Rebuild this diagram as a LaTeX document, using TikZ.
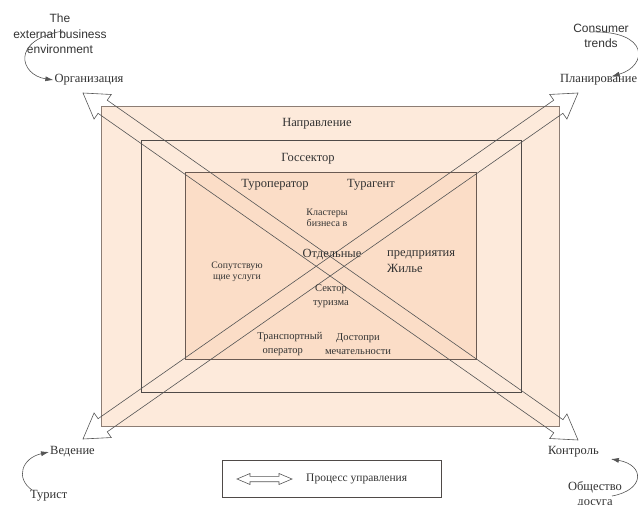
\documentclass[tikz,border=0pt]{standalone}
\usepackage{fontspec}
\setmainfont{Liberation Serif}
\newfontfamily\arialfont{Liberation Sans}
\usetikzlibrary{calc,arrows.meta}

\definecolor{peach}{HTML}{FDEADB}
\definecolor{peachdeep}{HTML}{FBDDC7}
\definecolor{frameA}{HTML}{8C7D74}
\definecolor{frameB}{HTML}{4F4A48}
\definecolor{frameC}{HTML}{6A5A52}
\definecolor{ink}{HTML}{333333}
\definecolor{wire}{HTML}{555555}

% double-headed hollow arrow between two named tips:
% #1, #2 tips, #3 head length, #4 head half width, #5 shaft half width
\newcommand{\fatarrow}[5]{%
  \coordinate (#1-hb) at ($(#1)!#3!(#2)$);
  \coordinate (#2-hb) at ($(#2)!#3!(#1)$);
  \draw[wire, line width=0.6pt, line join=miter]
    (#1) -- ($(#1-hb)!#4!90:(#2)$) -- ($(#1-hb)!#5!90:(#2)$)
    -- ($(#2-hb)!#5!-90:(#1)$) -- ($(#2-hb)!#4!-90:(#1)$)
    -- (#2) -- ($(#2-hb)!#4!90:(#1)$) -- ($(#2-hb)!#5!90:(#1)$)
    -- ($(#1-hb)!#5!-90:(#2)$) -- ($(#1-hb)!#4!-90:(#2)$) -- cycle;}

\begin{document}
\begin{tikzpicture}[x=1pt, y=-1pt,
  big/.style={font=\fontsize{12.5}{15}\selectfont, text=ink, inner sep=1pt},
  mid/.style={font=\fontsize{10.5}{14}\selectfont, text=ink, inner sep=1pt, align=center},
  sml/.style={font=\fontsize{9.8}{11}\selectfont, text=ink, inner sep=1pt, align=center},
  eng/.style={font=\arialfont\fontsize{12}{15.5}\selectfont, text=ink, inner sep=1pt, align=center},
  curv/.style={wire, line width=0.6pt, -{Latex[length=8pt,width=5pt]}}
]
\useasboundingbox (0,0) rectangle (638,505);

% nested frames
\draw[frameA, fill=peach, line width=0.7pt] (101,106) rectangle (559,426);
\draw[frameB, fill=peach, line width=0.7pt] (141,140) rectangle (521,392);
\draw[frameC, fill=peachdeep, line width=0.7pt] (185,172) rectangle (476,359);

% diagonal management arrows
\coordinate (tlTip) at (83,93);
\coordinate (brTip) at (578,440);
\coordinate (trTip) at (578,93);
\coordinate (blTip) at (83,439);
\fatarrow{tlTip}{brTip}{24pt}{15pt}{8pt}
\fatarrow{trTip}{blTip}{24pt}{15pt}{8pt}

% frame titles
\node[big] (napr) at (317,124) {Направление};
\node[big] (gos) at (308,159) {Госсектор};

% inner block labels
\node[big] (turop) at (275,185) {Туроператор};
\node[big] (turag) at (371,185) {Турагент};
\node[mid, font=\fontsize{10}{11.5}\selectfont] (klast) at (327,218) {Кластеры\\бизнеса в};
\node[big] (otd) at (332,255) {Отдельные};
\node[big, anchor=west] (pred) at (386,255) {предприятия};
\node[big, anchor=west] (zhil) at (386,268) {Жилье};
\node[sml] (soput) at (237,272) {Сопутствую\\щие услуги};
\node[mid] (sekt) at (331,296) {Сектор\\туризма};
\node[mid, align=left] (trans) at (290,344) {Транспортный\\\ \ оператор};
\node[mid] (dost) at (358,344) {Достопри\\мечательности};

% corner labels
\node[big] (org) at (89,80) {Организация};
\node[big, anchor=west] (plan) at (559,80) {Планирование};
\node[big, anchor=west] (ved) at (49,452) {Ведение};
\node[big, anchor=west] (kontr) at (547,452) {Контроль};
\node[big, anchor=west] (tur) at (29,496) {Турист};
\node[big, align=center] (obsh) at (595,495) {Общество\\досуга};
\node[eng] (ext) at (60,34) {The\\external business\\environment};
\node[eng] (cons) at (601,36) {Consumer\\trends};

% influence arrows
\coordinate (extStart) at (63,31);
\coordinate (consStart) at (590,32);
\coordinate (turStart) at (32,490);
\coordinate (obshStart) at (612,496);
\draw[curv] (extStart) .. controls (10,40) and (20,75) .. (org.west);
\draw[curv] (consStart) .. controls (650,30) and (648,66) .. ($(plan.north)+(13,3)$);
\draw[curv] (turStart) .. controls (15,478) and (22,458) .. (ved.west);
\draw[curv] (obshStart) .. controls (645,490) and (645,465) .. ($(kontr.east)+(11,7)$);

% legend
\node[draw=frameB, line width=0.6pt, minimum width=219pt, minimum height=37pt, inner sep=0pt] (legend) at (331.5,479) {};
\coordinate (legL) at (237,479);
\coordinate (legR) at (292,479);
\fatarrow{legL}{legR}{13pt}{5.5pt}{2.7pt}
\node[big, anchor=west, font=\fontsize{11.5}{14}\selectfont] (legtext) at (305,479) {Процесс управления};
\end{tikzpicture}
\end{document}
